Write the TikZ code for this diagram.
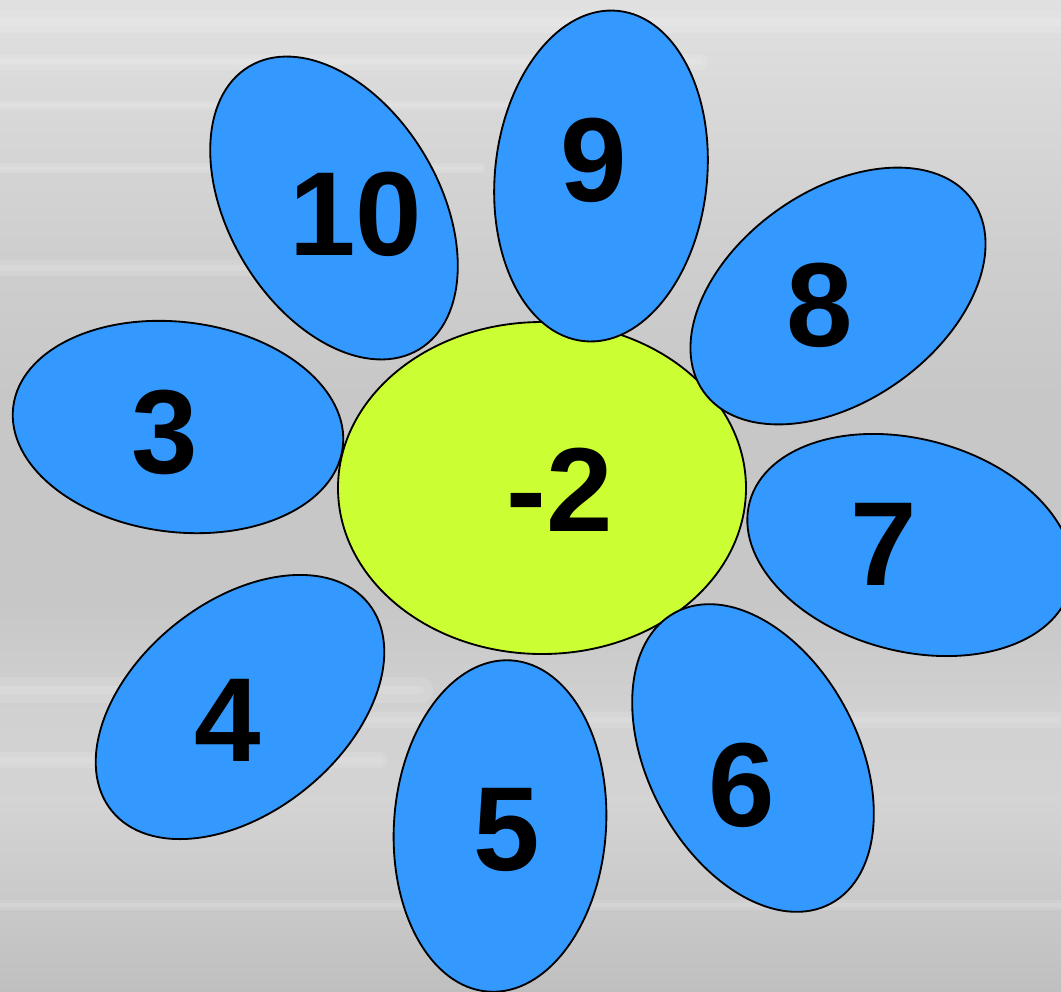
\documentclass[tikz,border=0pt]{standalone}
\usepackage{fontspec}
\setmainfont{Liberation Sans}
\usepackage{tikz}
\usetikzlibrary{positioning}
\definecolor{petalblue}{HTML}{3399FF}
\definecolor{heartlime}{HTML}{CCFF33}
\pgfdeclareverticalshading{greywater}{100bp}{%
  color(0bp)=(black!25); color(25bp)=(black!25);
  color(29.5bp)=(black!21); color(34.6bp)=(black!17); color(39bp)=(black!18);
  color(44.7bp)=(black!22); color(54.8bp)=(black!22); color(62.4bp)=(black!19);
  color(70bp)=(black!15); color(75bp)=(black!12); color(100bp)=(black!12)}

\begin{document}
\begin{tikzpicture}[x=0.2mm, y=-0.2mm,
  petal/.style={draw=black, line width=1.05pt, fill=petalblue},
  heart/.style={draw=black, line width=1.05pt, fill=heartlime},
  streak/.style={white, opacity=0.12, line width=#1, line cap=round},
  num/.style={font=\fontsize{68}{80}\selectfont\bfseries, inner sep=0pt}
]
\shade[shading=greywater] (0,0) rectangle (1061,991);
\useasboundingbox (0,0) rectangle (1061,991);
\foreach \y/\xa/\xb/\w in {22/0/1061/4pt, 62/0/700/3pt, 105/0/560/2pt, 168/0/480/2pt,
  268/0/300/3pt, 690/0/420/5pt, 720/300/1061/3pt, 760/0/380/3pt, 905/0/1061/2pt} {
  \draw[streak=3*\w] (\xa,\y) -- (\xb,\y);
  \draw[streak=\w] (\xa,\y) -- (\xb,\y);
}

\foreach \cx/\cy/\ang/\ra/\rb in {178/427/-7/166/105, 334/208/-59/165/105,
  240/707/39/165/105, 500/826/86/166/106, 910/545/-15/166/106} {
  \draw[petal, rotate around={\ang:(\cx,\cy)}] (\cx,\cy) ellipse [x radius=\ra, y radius=\rb];
}
\draw[heart] (542,488) ellipse [x radius=204, y radius=166];
\foreach \cx/\cy/\ang/\ra/\rb in {601/176/84/166/106, 838/296/35.5/165/105,
  753/758/-62/165/105} {
  \draw[petal, rotate around={\ang:(\cx,\cy)}] (\cx,\cy) ellipse [x radius=\ra, y radius=\rb];
}

\node[num] (mid) at (560,490) {-2};
\foreach \lab/\px/\py in {10/356/214, 9/594/160, 8/820/305, 7/884/544, 6/742/785,
  5/507/830, 4/228/720, 3/165/432} {
  \node[num] (n\lab) at (\px,\py) {\lab};
}
\end{tikzpicture}
\end{document}
